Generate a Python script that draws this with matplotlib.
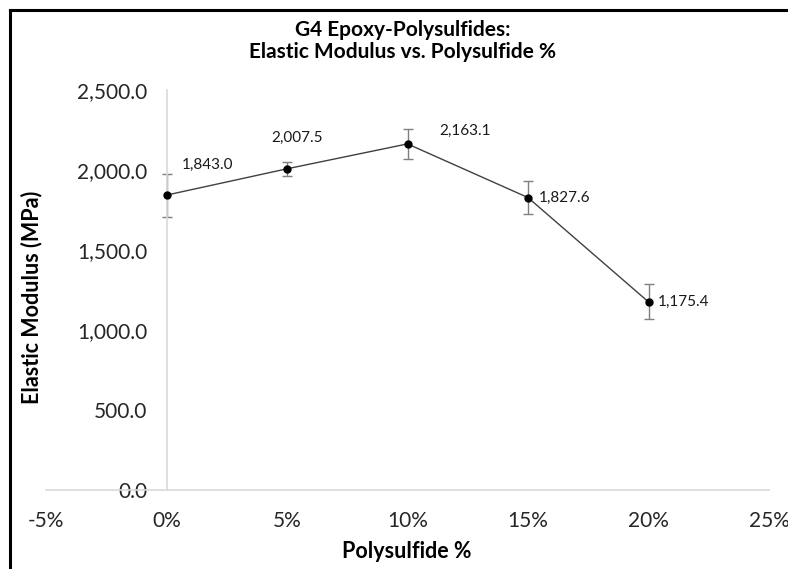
import matplotlib.pyplot as plt
from matplotlib.lines import Line2D
from matplotlib.ticker import FuncFormatter, MultipleLocator

plt.rcParams['font.family'] = ['Lato', 'DejaVu Sans']

# Polysulfide content (%) and measured elastic modulus (MPa)
polysulfide_pct = [0, 5, 10, 15, 20]
modulus_mpa = [1843.0, 2007.5, 2163.1, 1827.6, 1175.4]
modulus_err = [135, 42, 94, 102, 109]

# label offsets in pixels from each point
label_offsets = [(41, 30), (10, 31), (58, 13), (37, 0), (35, 0)]

fig = plt.figure(figsize=(7.88, 5.69), dpi=100)
W, H = 788, 569
ax = fig.add_axes([46 / W, 1 - 490 / H, (769 - 46) / W, 400 / H])

ax.errorbar(polysulfide_pct, modulus_mpa, yerr=modulus_err,
            fmt='none', ecolor='#7f7f7f', elinewidth=1.0, capsize=3.5, capthick=1.0, zorder=2)
ax.plot(polysulfide_pct, modulus_mpa, color='#404040', linewidth=1.0,
        marker='o', markersize=5, markerfacecolor='black', markeredgecolor='black', zorder=3)

for x, y, (dx, dy) in zip(polysulfide_pct, modulus_mpa, label_offsets):
    ax.annotate(f"{y:,.1f}", (x, y), xytext=(dx, dy), textcoords='offset pixels',
                ha='center', va='center', fontsize=11, color='#1a1a1a')

ax.set_xlim(-5, 25)
ax.set_ylim(0, 2500)
ax.xaxis.set_major_locator(MultipleLocator(5))
ax.yaxis.set_major_locator(MultipleLocator(500))
ax.xaxis.set_major_formatter(FuncFormatter(lambda v, p: f"{v:.0f}%"))
ax.yaxis.set_major_formatter(FuncFormatter(lambda v, p: f"{v:,.1f}"))

for side in ('top', 'right'):
    ax.spines[side].set_visible(False)
ax.spines['left'].set_position(('data', 0))
ax.spines['left'].set_color('#d9d9d9')
ax.spines['bottom'].set_color('#d9d9d9')
ax.spines['left'].set_linewidth(1.2)
ax.spines['bottom'].set_linewidth(1.2)
ax.tick_params(axis='both', length=0, labelsize=15, labelcolor='#262626')
ax.tick_params(axis='y', pad=14)
ax.tick_params(axis='x', pad=15)

fig.text(32 / W, 1 - 297 / H, 'Elastic Modulus (MPa)', rotation=90,
         ha='center', va='center', fontsize=15.5, fontweight='bold')
fig.text(407 / W, 1 - 551 / H, 'Polysulfide %', ha='center', va='center',
         fontsize=15.5, fontweight='bold')
fig.text(403 / W, 1 - 30 / H, 'G4 Epoxy-Polysulfides:', ha='center', va='center',
         fontsize=15, fontweight='bold')
fig.text(403 / W, 1 - 52 / H, 'Elastic Modulus vs. Polysulfide %', ha='center',
         va='center', fontsize=15, fontweight='bold')

# chart frame (left and top edges)
fig.add_artist(Line2D([10 / W, 10 / W], [0, 1 - 10 / H], color='black', linewidth=2.2,
                      transform=fig.transFigure))
fig.add_artist(Line2D([10 / W, 1], [1 - 10 / H, 1 - 10 / H], color='black', linewidth=2.2,
                      transform=fig.transFigure))

fig.savefig('out.png', dpi=100)
